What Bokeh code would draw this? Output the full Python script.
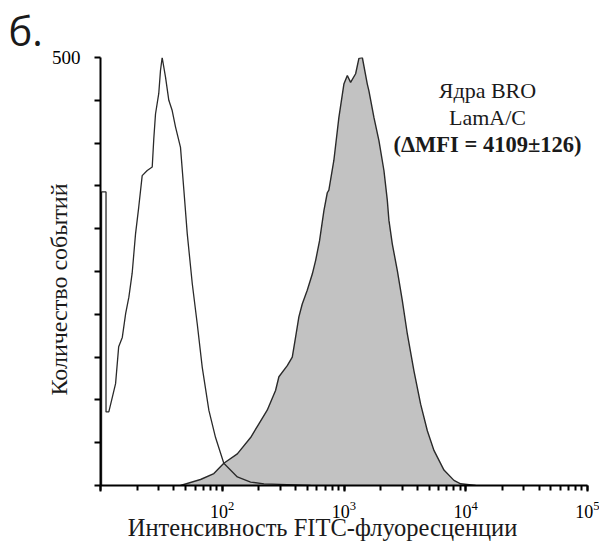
from bokeh.plotting import figure
from bokeh.models import Range1d, FixedTicker, Label, Title
from bokeh.embed import file_html
from bokeh.resources import INLINE

# ---- data ----
# control (unstained) histogram, outline only
control_fluor = [10.2, 10.2, 11.1, 11.1, 11.7, 12.5, 13.3, 14.1, 15.1, 16.1,
                 17.1, 18.2, 19.4, 20.6, 22.0, 24.2, 26.6, 27.4, 28.3, 30.1,
                 31.1, 32.1, 34.2, 36.4, 38.8, 41.3, 45.4, 48.4, 51.6, 56.7,
                 62.3, 68.5, 77.6, 88.1, 103, 133, 171, 220, 342, 532]
control_counts = [0, 343, 343, 86, 86, 103, 119, 162, 173, 201,
                  220, 248, 294, 325, 362, 368, 372, 405, 434, 458,
                  485, 500, 477, 450, 438, 419, 395, 345, 294, 236,
                  189, 138, 88, 56, 26, 10, 4, 2, 1, 0]

# LamA/C stained nuclei histogram, filled
stained_fluor = [45.4, 66.3, 85.3, 103, 133, 171, 200, 234, 274, 292,
                 342, 376, 400, 426, 454, 499, 549, 585, 630, 684,
                 729, 751, 826, 908, 998, 1065, 1133, 1246, 1326, 1414,
                 1554, 1602, 1761, 1936, 2128, 2269, 2338, 2494, 2742, 3013,
                 3313, 3753, 4260, 4836, 5480, 6623, 8000, 9081, 12060]
stained_counts = [0, 7, 14, 26, 37, 56, 72, 88, 111, 127,
                  140, 150, 173, 197, 212, 228, 247, 263, 286, 321,
                  342, 345, 380, 430, 469, 479, 471, 481, 499, 500,
                  469, 461, 430, 403, 368, 333, 310, 282, 251, 216,
                  177, 134, 95, 64, 41, 18, 6, 2, 0]

y_ticks = [0, 50, 100, 150, 200, 250, 300, 350, 400, 450, 500]
y_tick_labels = {0: "", 50: "", 100: "", 150: "", 200: "", 250: "",
                 300: "", 350: "", 400: "", 450: "", 500: "500"}
x_hidden_labels = {10: ""}

panel_letter = "б."
x_title = "Интенсивность FITC-флуоресценции"
y_title = "Количество событий"
note_lines = ["Ядра BRO", "LamA/C", "(\u0394MFI = 4109\u00b1126)"]

SERIF = "Liberation Serif"
NB = "\u00a0"

p = figure(width=599, height=543, x_axis_type="log",
           x_range=Range1d(10, 1e5), y_range=Range1d(0, 500),
           output_backend="svg", toolbar_location=None,
           min_border_left=100, min_border_right=12,
           min_border_top=57, min_border_bottom=58)
p.outline_line_color = None
p.xgrid.grid_line_color = None
p.ygrid.grid_line_color = None
p.background_fill_color = "white"
p.border_fill_color = "white"

# filled histogram
p.varea(x=stained_fluor, y1=[0] * len(stained_counts), y2=stained_counts,
        fill_color="#c2c2c2")
p.line(x=stained_fluor, y=stained_counts, line_color="#2a2a2a", line_width=1.4)
# control outline
p.line(x=control_fluor, y=control_counts, line_color="#2a2a2a", line_width=1.3)

# axes
for ax in (p.xaxis[0], p.yaxis[0]):
    ax.axis_line_color = "black"
    ax.axis_line_width = 2
    ax.major_tick_line_color = "black"
    ax.major_tick_line_width = 2
    ax.major_tick_in = 0
    ax.minor_tick_in = 0
    ax.major_label_text_font = SERIF
    ax.major_label_text_color = "black"
    ax.axis_label_text_font = SERIF
    ax.axis_label_text_font_style = "normal"
    ax.axis_label_text_color = "#1a1a1a"

p.xaxis.major_tick_out = 6
p.xaxis.minor_tick_out = 5
p.xaxis.minor_tick_line_color = "black"
p.xaxis.minor_tick_line_width = 2
p.xaxis.major_label_text_font_size = "18px"
p.xaxis.major_label_standoff = 9
p.xaxis.major_label_overrides = x_hidden_labels
p.xaxis.axis_label = x_title + NB * 7
p.xaxis.axis_label_text_font_size = "24.5px"
p.xaxis.axis_label_standoff = -7

p.yaxis.ticker = FixedTicker(ticks=y_ticks, minor_ticks=[])
p.yaxis.major_tick_out = 6
p.yaxis.major_label_overrides = y_tick_labels
p.yaxis.major_label_text_font_size = "19px"
p.yaxis.major_label_standoff = 14
p.yaxis.axis_label = y_title + NB * 6
p.yaxis.axis_label_text_font_size = "24px"
p.yaxis.axis_label_standoff = -23

# panel letter
p.add_layout(Title(text=panel_letter, align="left", offset=-92, standoff=0,
                   text_font="Open Sans", text_font_size="40px",
                   text_font_style="normal", text_color="#1a1a1a"), "above")

# note inside the plot
note_sizes = ["22px", "22px", "22.5px"]
for i, (line, yy) in enumerate(zip(note_lines, [395, 368, 341])):
    p.add_layout(Label(x=387, y=yy, x_units="screen", y_units="screen",
                       text=line, text_font=SERIF, text_font_size=note_sizes[i],
                       text_font_style="bold" if i == 2 else "normal",
                       text_color="#1a1a1a", text_align="center",
                       text_baseline="middle"))

open("out.html", "w").write(file_html(p, INLINE))
